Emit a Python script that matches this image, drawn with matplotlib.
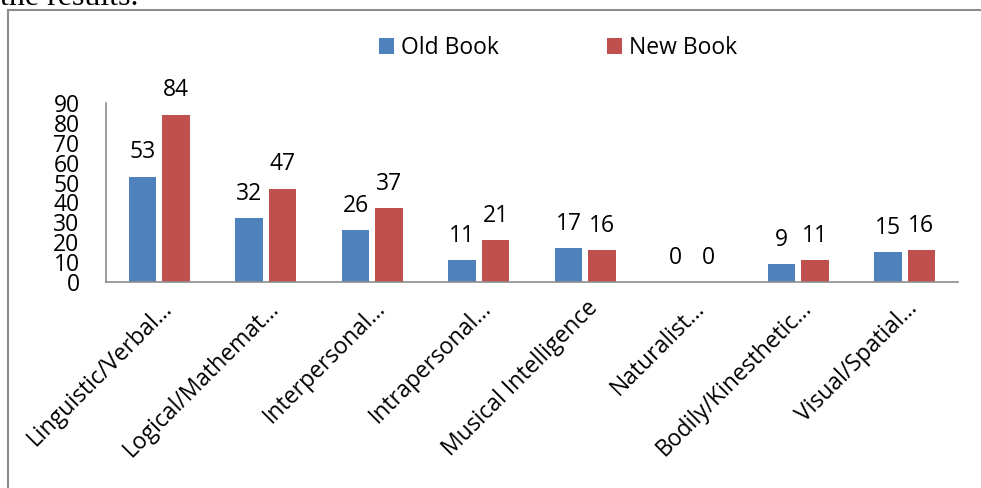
import matplotlib
matplotlib.use("Agg")
import matplotlib.pyplot as plt
from matplotlib.lines import Line2D
import numpy as np

categories = ["Linguistic/Verbal…", "Logical/Mathemat…", "Interpersonal…", "Intrapersonal…",
              "Musical Intelligence", "Naturalist…", "Bodily/Kinesthetic…", "Visual/Spatial…"]
old_book = [53, 32, 26, 11, 17, 0, 9, 15]
new_book = [84, 47, 37, 21, 16, 0, 11, 16]
series_names = ["Old Book", "New Book"]
yticks = [0, 10, 20, 30, 40, 50, 60, 70, 80, 90]

plt.rcParams['font.family'] = ['Open Sans', 'DejaVu Sans']
FS = 16.5
W, H = 981, 488
fig = plt.figure(figsize=(W/100, H/100), dpi=100)

# outer frame (top and left lines)
fig.add_artist(Line2D([8/W, 8/W], [0, 1 - 10/H], color='#8c8c8c', lw=1.5, transform=fig.transFigure))
fig.add_artist(Line2D([8/W, 1], [1 - 10/H, 1 - 10/H], color='#8c8c8c', lw=1.5, transform=fig.transFigure))
fig.text(0.0, 1 - 5/H, "the results.", family='Liberation Serif', fontsize=23, va='baseline', ha='left')

ax = fig.add_axes([106/W, (H-282)/H, (958-106)/W, (282-103)/H])
x = np.arange(len(categories))
bw = 0.26
off = 0.157
c_old, c_new = '#4F81BD', '#C0504D'
b1 = ax.bar(x - off, old_book, bw, color=c_old, label=series_names[0])
b2 = ax.bar(x + off, new_book, bw, color=c_new, label=series_names[1])
for bars in (b1, b2):
    for r in bars:
        v = r.get_height()
        ax.annotate(f"{int(v)}", (r.get_x() + r.get_width()/2, v), xytext=(0, 9),
                    textcoords='offset points', ha='center', va='bottom', fontsize=FS)

ax.set_xlim(-0.5, len(categories) - 0.5)
ax.set_ylim(0, 90)
ax.set_yticks(yticks)
ax.set_yticklabels([str(t) for t in yticks], fontsize=FS)
ax.tick_params(axis='y', length=0, pad=19)
ax.tick_params(axis='x', length=0, pad=4)
ax.set_xticks(x)
ax.set_xticklabels(categories, rotation=45, ha='right', va='top', rotation_mode='anchor', fontsize=FS)
for lab in ax.get_xticklabels():
    lab.set_transform(lab.get_transform() + matplotlib.transforms.ScaledTranslation(1/100, -9/100, fig.dpi_scale_trans))
for s in ['top', 'right']:
    ax.spines[s].set_visible(False)
for s in ['left', 'bottom']:
    ax.spines[s].set_color('#8c8c8c')
    ax.spines[s].set_linewidth(1.2)

leg = fig.legend(handles=[b1, b2], loc='center', bbox_to_anchor=(558/W, 1 - 48/H), ncol=2,
                 frameon=False, fontsize=FS, handlelength=0.65, handleheight=0.65,
                 handletextpad=0.3, columnspacing=4.75)

fig.savefig("out.png", dpi=100)
